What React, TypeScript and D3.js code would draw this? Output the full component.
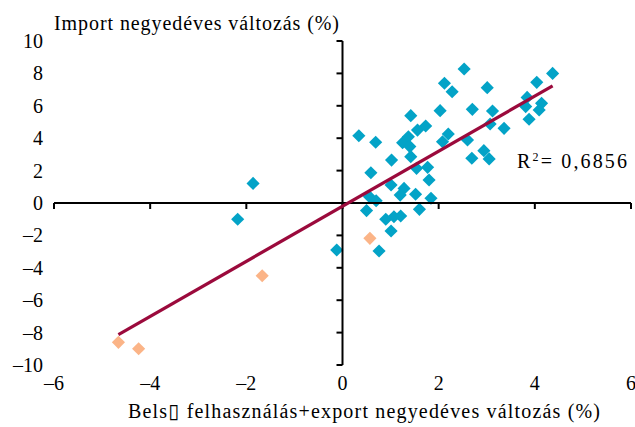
import * as d3 from "d3";
import React from "react";

// points (x: domestic use + export, y: import), quarterly % change
const blueX = [-2.18, -1.86, -0.12, 0.34, 0.69, 1.02, 0.59, 1.42, 1.25, 1.37, 1.4, 1.42, 1.56, 1.73, 1.54, 1.77,
  2.12, 2.28, 2.53, 2.03, 2.7, 2.2, 2.08, 2.6, 2.69, 3.01, 3.12, 3.07, 3.36, 2.94, 3.05, 4.04, 4.37, 3.84, 3.81,
  4.14, 4.09, 3.88, 1.01, 1.28, 1.2, 1.52, 1.8, 1.84, 0.56, 0.7, 0.5, 1.6, 0.9, 1.07, 1.21, 1.01, 0.76];
const blueY = [-1.0, 1.21, -2.9, 4.15, 3.75, 2.65, 1.87, 5.39, 3.72, 4.09, 3.48, 2.86, 4.5, 4.75, 2.14, 2.2,
  7.39, 6.87, 8.27, 5.7, 5.78, 4.26, 3.78, 3.89, 2.76, 7.12, 5.68, 4.88, 4.61, 3.23, 2.72, 7.45, 8.0, 6.52, 5.95,
  6.15, 5.74, 5.17, 1.11, 0.9, 0.49, 0.54, 1.42, 0.29, 0.39, 0.14, -0.47, -0.39, -1.0, -0.85, -0.8, -1.73, -2.96];
const orangeX = [-4.66, -4.24, -1.67, 0.57];
const orangeY = [-8.6, -9.0, -4.49, -2.18];

const trendSlope = 1.7;
const trendIntercept = -0.2;
const trendRange = [-4.66, 4.37];
const rSquared = "0,6856";

const xTicks = [-6, -4, -2, 0, 2, 4, 6];
const yTicks = [-10, -8, -6, -4, -2, 0, 2, 4, 6, 8, 10];

const WIDTH = 635;
const HEIGHT = 427;
const FONT = "'Liberation Serif', 'DejaVu Serif', serif";

const fmt = (v: number) => (v < 0 ? "\u2013" + Math.abs(v) : String(v));

const diamond = d3.symbol().type(d3.symbolDiamond2).size(110);

export default function App() {
  const x = d3.scaleLinear().domain([-6, 6]).range([54, 631]);
  const y = d3.scaleLinear().domain([-10, 10]).range([365, 41]);
  const x0 = x(0);
  const y0 = y(0);

  const line = d3.line<number>()
    .x((d) => x(d))
    .y((d) => y(trendSlope * d + trendIntercept));

  return (
    <svg width={WIDTH} height={HEIGHT} style={{position: "absolute", left: 0, top: 0, background: "#fff"}}
         fontFamily={FONT}>
      {blueX.map((d, i) => (
        <path key={"b" + i} d={diamond()!} transform={`translate(${x(d)},${y(blueY[i])})`} fill="#03a3c7"/>
      ))}
      {orangeX.map((d, i) => (
        <path key={"o" + i} d={diamond()!} transform={`translate(${x(d)},${y(orangeY[i])})`} fill="#fbb487"/>
      ))}

      {/* axes crossing at zero */}
      <line x1={x(-6)} x2={x(6)} y1={y0} y2={y0} stroke="#000" strokeWidth={2}/>
      <line x1={x0} x2={x0} y1={y(10)} y2={y(-10)} stroke="#000" strokeWidth={2}/>
      {xTicks.map((t) => (
        <line key={"xt" + t} x1={x(t)} x2={x(t)} y1={y0} y2={y0 + 6} stroke="#000" strokeWidth={2}/>
      ))}
      {yTicks.map((t) => (
        <line key={"yt" + t} x1={x0 - 6} x2={x0} y1={y(t)} y2={y(t)} stroke="#000" strokeWidth={2}/>
      ))}

      <path d={line(trendRange)!} fill="none" stroke="#9b0a3c" strokeWidth={3.2}/>

      {yTicks.map((t) => (
        <text key={"yl" + t} x={43} y={y(t)} dy="0.35em" textAnchor="end" fontSize={20}>{fmt(t)}</text>
      ))}
      {xTicks.map((t) => (
        <text key={"xl" + t} x={x(t)} y={383} dy="0.35em" textAnchor="middle" fontSize={20}>{fmt(t)}</text>
      ))}

      <text x={54} y={30} fontSize={20} textLength={285} lengthAdjust="spacing">Import negyedéves változás (%)</text>
      <text x={128} y={418} fontSize={20} textLength={472} lengthAdjust="spacing">
        Bels▯ felhasználás+export negyedéves változás (%)
      </text>
      <text x={517} y={168} fontSize={20} textLength={110} lengthAdjust="spacing">
        R<tspan dy={-7} fontSize={12}>2</tspan><tspan dy={7}>= {rSquared}</tspan>
      </text>
    </svg>
  );
}
